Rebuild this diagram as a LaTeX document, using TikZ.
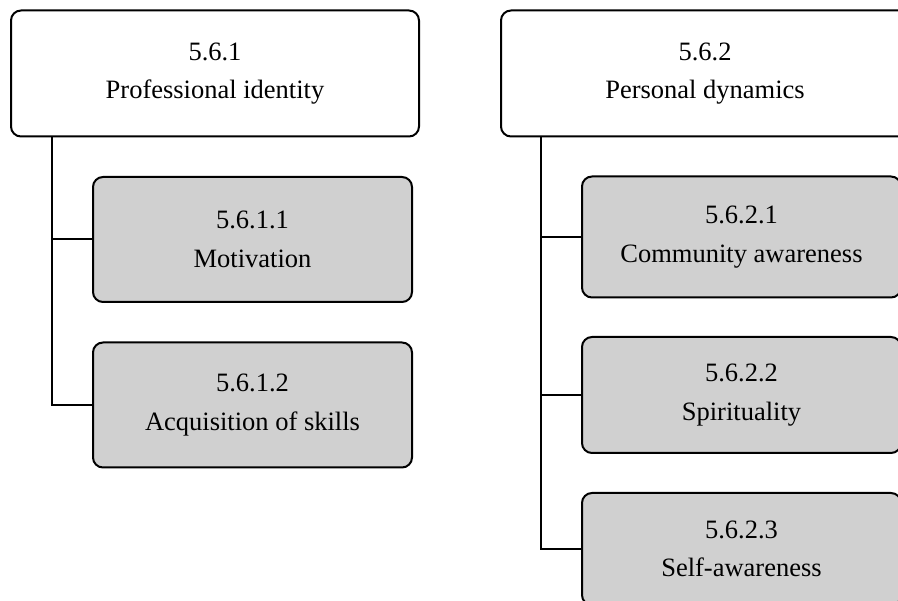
\documentclass[tikz,border=0pt]{standalone}
\usepackage{fontspec}
\setmainfont{Liberation Serif}
\usepackage{xcolor}
\usetikzlibrary{positioning}
\definecolor{subgray}{RGB}{208,208,208}
\tikzset{
  topic/.style={draw, rounded corners=10pt, line width=2pt, align=center, minimum width=408pt, minimum height=126pt, fill=white},
  subtopic/.style={topic, fill=subgray, minimum width=319pt, minimum height=125pt},
  branch/.style={line width=2pt},
  every node/.style={font=\fontsize{26.5}{38.5}\selectfont}
}
\begin{document}
\begin{tikzpicture}[x=1pt, y=-1pt]
    \useasboundingbox (0,0) rectangle (898,601);
    \clip (0,0) rectangle (898,601);
    % left tree
    \node[topic] (pid) at (215,73.5) {5.6.1\\Professional identity};
    \node[subtopic] (mot) at (252.5,239.5) {5.6.1.1\\Motivation};
    \node[subtopic] (acq) at (252.5,405) {5.6.1.2\\Acquisition of skills};
    % right tree
    \node[topic] (pdy) at (705,73.5) {5.6.2\\Personal dynamics};
    \node[subtopic, minimum height=121pt] (com) at (741.5,237) {5.6.2.1\\Community awareness};
    \node[subtopic, minimum height=116pt] (spi) at (741.5,395) {5.6.2.2\\Spirituality};
    \node[subtopic, minimum height=112pt] (self) at (741.5,549) {5.6.2.3\\Self-awareness};

    \draw[branch] ([xshift=42pt]pid.south west) |- (mot.west);
    \draw[branch] ([xshift=42pt]pid.south west) |- (acq.west);
    \draw[branch] ([xshift=41pt]pdy.south west) |- (com.west);
    \draw[branch] ([xshift=41pt]pdy.south west) |- (spi.west);
    \draw[branch] ([xshift=41pt]pdy.south west) |- (self.west);
\end{tikzpicture}
\end{document}
